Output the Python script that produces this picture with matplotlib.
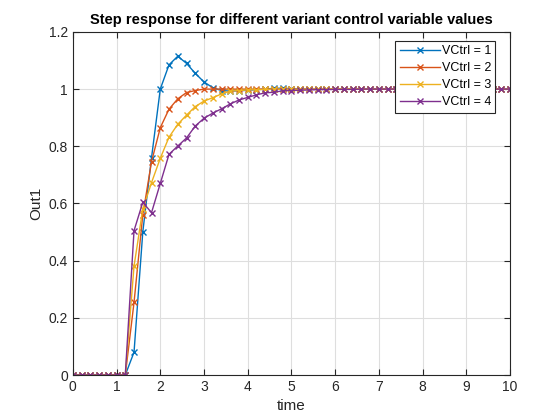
import matplotlib.pyplot as plt
import numpy as np

plt.rcParams['font.family'] = ['Liberation Sans', 'DejaVu Sans']

# sample times (0 to 10 in steps of 0.2)
t = np.arange(51) * 0.2

head = [0.0] * 6
vctrl1 = head + [0.0, 0.08, 0.50, 0.76, 1.00, 1.085, 1.115, 1.09, 1.055, 1.025,
                 1.005, 0.995, 0.993, 0.994, 0.996, 0.998, 1.0, 1.003, 1.003, 1.002,
                 1.001] + [1.0] * 24
vctrl2 = head + [0.0, 0.254, 0.56, 0.746, 0.865, 0.93, 0.966, 0.988, 0.995, 1.0] + [1.0] * 35
vctrl3 = head + [0.0, 0.381, 0.58, 0.673, 0.758, 0.832, 0.877, 0.909, 0.939, 0.958,
                 0.970, 0.983, 0.993, 0.995, 0.997, 0.998, 0.999] + [1.0] * 28
vctrl4 = head + [0.0, 0.505, 0.604, 0.568, 0.67, 0.772, 0.801, 0.829, 0.871, 0.898,
                 0.916, 0.931, 0.948, 0.962, 0.971, 0.980, 0.987, 0.989, 0.994, 0.995,
                 0.996, 0.997, 0.998, 0.998, 0.999, 0.999, 0.999] + [1.0] * 18

series = [vctrl1, vctrl2, vctrl3, vctrl4]
labels = ['VCtrl = 1', 'VCtrl = 2', 'VCtrl = 3', 'VCtrl = 4']
colors = ['#0072BD', '#D95319', '#EDB120', '#7E2F8E']

fig = plt.figure(figsize=(5.6, 4.2), dpi=100)
ax = fig.add_axes([0.13, 0.107, 0.781, 0.817])

for y, lab, c in zip(series, labels, colors):
    ax.plot(t, y, color=c, marker='x', markersize=5, linewidth=1, label=lab)

ax.set_xlim(0, 10)
ax.set_ylim(0, 1.2)
ax.set_xticks(np.arange(0, 11, 1))
ax.set_yticks([0, 0.2, 0.4, 0.6, 0.8, 1.0, 1.2])
ax.set_yticklabels(['0', '0.2', '0.4', '0.6', '0.8', '1', '1.2'])

ax.grid(True, color='#dedede', linewidth=0.8)
ax.set_axisbelow(True)
ax.tick_params(direction='in', length=4, labelsize=10, colors='#262626',
               top=True, right=True)
for s in ax.spines.values():
    s.set_color('#262626')
    s.set_linewidth(0.8)

ax.set_title('Step response for different variant control variable values',
             fontsize=10.5, fontweight='bold')
ax.set_xlabel('time', fontsize=11, color='#262626')
ax.set_ylabel('Out1', fontsize=11, color='#262626')

leg = ax.legend(loc='upper right', bbox_to_anchor=(0.966, 0.974), borderaxespad=0,
                fontsize=9, fancybox=False, framealpha=1, edgecolor='#262626',
                handlelength=3.2, handletextpad=0.15, labelspacing=0.4,
                borderpad=0.35)
leg.get_frame().set_linewidth(0.8)

fig.savefig('out.png', dpi=100)
